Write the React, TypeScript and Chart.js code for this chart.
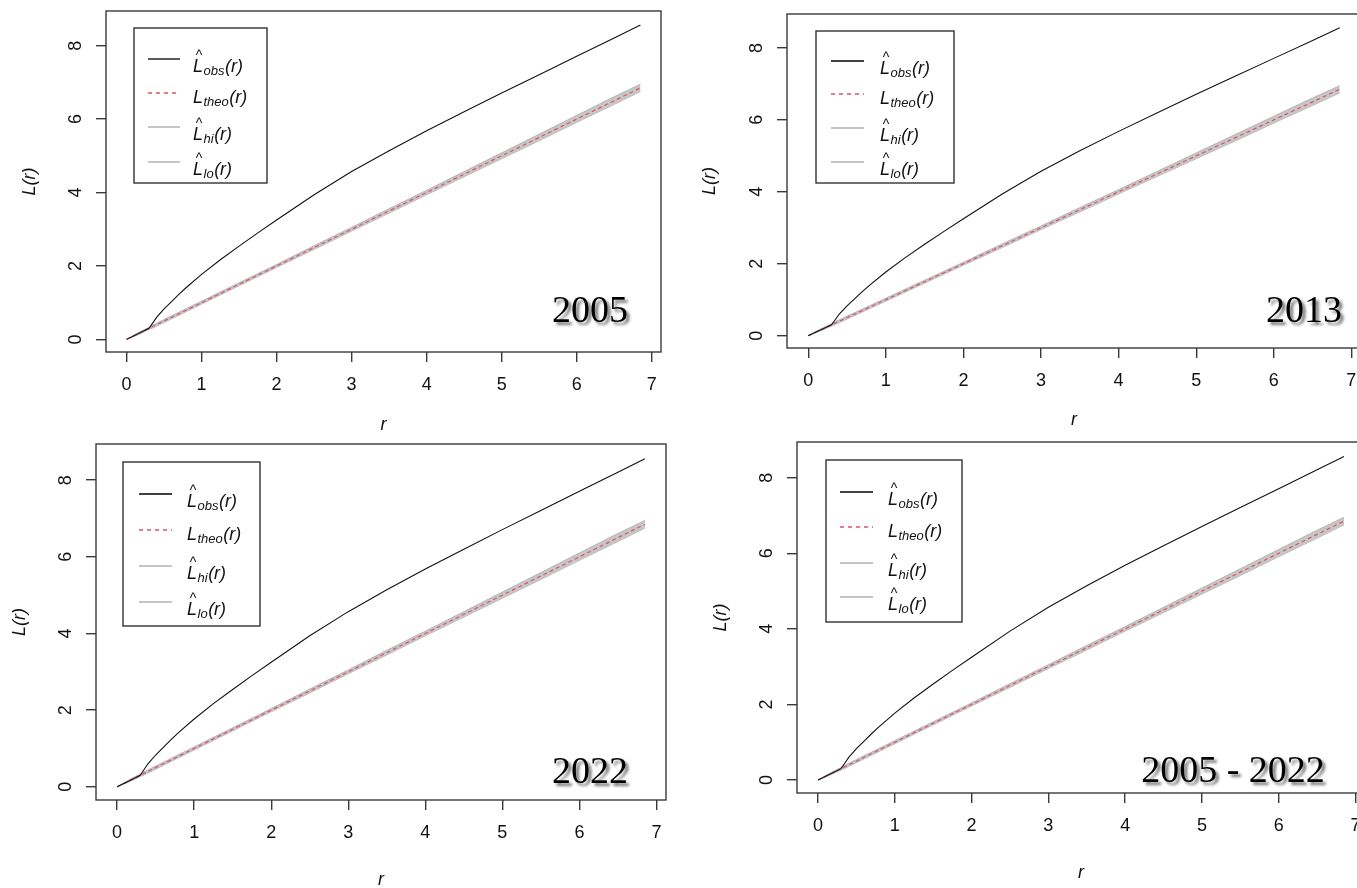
import React, { useEffect, useRef } from 'react';
import { Chart, registerables } from 'chart.js';

Chart.register(...registerables);

// ---------- data ----------
const rValues = [0, 0.1, 0.2, 0.3, 0.35, 0.4, 0.5, 0.6, 0.7, 0.8, 1, 1.25, 1.5, 1.75, 2, 2.5, 3, 3.5, 4, 4.5, 5, 5.5, 6, 6.5, 6.85];
const obsValues = [0, 0.1, 0.2, 0.3, 0.45, 0.6, 0.83, 1.03, 1.23, 1.42, 1.77, 2.17, 2.54, 2.9, 3.25, 3.94, 4.57, 5.14, 5.68, 6.2, 6.71, 7.21, 7.71, 8.21, 8.56];
const theoValues = [0, 0.1, 0.2, 0.3, 0.35, 0.4, 0.5, 0.6, 0.7, 0.8, 1, 1.25, 1.5, 1.75, 2, 2.5, 3, 3.5, 4, 4.5, 5, 5.5, 6, 6.5, 6.85];
const hiValues = [0, 0.12, 0.23, 0.33, 0.39, 0.44, 0.54, 0.64, 0.74, 0.84, 1.04, 1.29, 1.54, 1.79, 2.04, 2.55, 3.05, 3.56, 4.06, 4.57, 5.08, 5.59, 6.1, 6.61, 6.95];
const loValues = [0, 0.08, 0.17, 0.27, 0.31, 0.36, 0.46, 0.56, 0.66, 0.76, 0.96, 1.21, 1.46, 1.71, 1.96, 2.45, 2.95, 3.44, 3.94, 4.43, 4.92, 5.41, 5.91, 6.4, 6.75];
const xTickValues = [0, 1, 2, 3, 4, 5, 6, 7];
const yTickValues = [0, 2, 4, 6, 8];
const panelLabels = ['2005', '2013', '2022', '2005 - 2022'];
const legendSubscripts = ['obs', 'theo', 'hi', 'lo'];
const legendHats = [true, false, true, true];

// ---------- layout (page pixel positions) ----------
const PANELS = [
  { area: { l: 106, t: 11, r: 661, b: 352 }, dl: 76, dr: 73, year: [590, 312],
    legend: { x: 134, y: 28, w: 133, h: 155, rows: [59, 93, 127, 162], line: [148, 180], text: 193 } },
  { area: { l: 787, t: 14, r: 1361, b: 348 }, dl: 77, dr: 72, year: [1304, 312],
    legend: { x: 816, y: 31, w: 138, h: 152, rows: [61, 94, 128, 162], line: [831, 864], text: 880 } },
  { area: { l: 96, t: 444, r: 666, b: 800 }, dl: 76, dr: 80, year: [590, 773],
    legend: { x: 123, y: 462, w: 137, h: 164, rows: [494, 530, 566, 602], line: [139, 172], text: 187 } },
  { area: { l: 797, t: 442, r: 1365, b: 793 }, dl: 76, dr: 80, year: [1233, 772],
    legend: { x: 826, y: 460, w: 136, h: 162, rows: [492, 527, 563, 597], line: [840, 873], text: 888 } },
];

const SANS = '"Liberation Sans", Arial, Helvetica, sans-serif';
const SERIF = '"Liberation Serif", "Times New Roman", serif';
const Y_AXIS_W = 90;
const X_AXIS_H = 95;
const PAD_L = 110, PAD_T = 15, PAD_R = 20, PAD_B = 100;
const TICK_FONT = 18;

const LEGEND_STYLE = [
  { color: '#000000', width: 1.3, dash: [] as number[] },
  { color: '#DF536B', width: 1.3, dash: [4, 4] },
  { color: '#c4c4c4', width: 2, dash: [] as number[] },
  { color: '#c4c4c4', width: 2, dash: [] as number[] },
];

const rPlotPlugin = {
  id: 'rPlot',
  afterDraw(chart: any, _args: any, opts: any) {
    const { ctx, chartArea: a, scales } = chart;
    const ox = opts.ox, oy = opts.oy;
    ctx.save();
    // plot box
    ctx.strokeStyle = '#3a3a3a';
    ctx.lineWidth = 1.4;
    ctx.strokeRect(a.left, a.top, a.right - a.left, a.bottom - a.top);

    // rotated y tick labels (R style, las = 0)
    const ys = scales.y;
    ctx.fillStyle = '#111';
    ctx.font = `${TICK_FONT}px ${SANS}`;
    ctx.textAlign = 'center';
    ctx.textBaseline = 'middle';
    ys.ticks.forEach((t: any) => {
      const py = ys.getPixelForValue(t.value);
      ctx.save();
      ctx.translate(a.left - 30, py);
      ctx.rotate(-Math.PI / 2);
      ctx.fillText(String(t.value), 0, 0);
      ctx.restore();
    });

    // legend
    const lg = opts.legend;
    ctx.fillStyle = '#fff';
    ctx.fillRect(lg.x - ox, lg.y - oy, lg.w, lg.h);
    ctx.strokeStyle = '#333';
    ctx.lineWidth = 1.4;
    ctx.strokeRect(lg.x - ox, lg.y - oy, lg.w, lg.h);
    legendSubscripts.forEach((sub, i) => {
      const y = lg.rows[i] - oy;
      const st = LEGEND_STYLE[i];
      ctx.strokeStyle = st.color;
      ctx.lineWidth = st.width;
      ctx.setLineDash(st.dash);
      ctx.beginPath();
      ctx.moveTo(lg.line[0] - ox, y);
      ctx.lineTo(lg.line[1] - ox, y);
      ctx.stroke();
      ctx.setLineDash([]);
      const base = y + (legendHats[i] ? 13 : 9.5);
      let x = lg.text - ox;
      ctx.fillStyle = '#111';
      ctx.textBaseline = 'alphabetic';
      ctx.textAlign = 'left';
      ctx.font = `italic 18px ${SANS}`;
      ctx.fillText('L', x, base);
      const lw = ctx.measureText('L').width;
      if (legendHats[i]) {
        ctx.font = `14px ${SANS}`;
        ctx.textAlign = 'center';
        ctx.fillText('^', x + lw / 2 + 1, base - 12.5);
        ctx.textAlign = 'left';
      }
      x += lw + 0.5;
      ctx.font = `italic 13px ${SANS}`;
      ctx.fillText(sub, x, base + 3);
      x += ctx.measureText(sub).width + 0.5;
      ctx.font = `italic 18px ${SANS}`;
      ctx.fillText('(r)', x, base);
    });

    // year label with shadow
    ctx.font = `38px ${SERIF}`;
    ctx.textAlign = 'center';
    ctx.textBaseline = 'middle';
    ctx.shadowColor = 'rgba(0,0,0,0.55)';
    ctx.shadowOffsetX = 3;
    ctx.shadowOffsetY = 3;
    ctx.shadowBlur = 3;
    ctx.fillStyle = '#000';
    ctx.fillText(opts.label, opts.year[0] - ox, opts.year[1] - oy);
    ctx.restore();
  },
};

const pts = (vals: number[]) => rValues.map((r, i) => ({ x: r, y: vals[i] }));

function Panel({ idx }: { idx: number }) {
  const ref = useRef<HTMLCanvasElement | null>(null);
  const cfg = PANELS[idx];
  const { l, t, r, b } = cfg.area;
  const x0 = l - PAD_L;
  const y0 = t - PAD_T;
  const W = r - l + PAD_L + PAD_R;
  const H = b - t + PAD_T + PAD_B;

  useEffect(() => {
    if (!ref.current) return;
    const chart = new Chart(ref.current, {
      type: 'line',
      data: {
        datasets: [
          { label: 'obs', data: pts(obsValues), borderColor: '#111', borderWidth: 1.1, pointRadius: 0, tension: 0, fill: false },
          { label: 'theo', data: pts(theoValues), borderColor: '#DF536B', borderWidth: 1.2, borderDash: [4, 3], pointRadius: 0, tension: 0, fill: false },
          { label: 'hi', data: pts(hiValues), borderColor: '#b4b4b4', borderWidth: 1, pointRadius: 0, tension: 0, fill: '+1', backgroundColor: '#c6c6c6' },
          { label: 'lo', data: pts(loValues), borderColor: '#b4b4b4', borderWidth: 1, pointRadius: 0, tension: 0, fill: false },
        ],
      } as any,
      options: {
        animation: false,
        responsive: false,
        devicePixelRatio: 1,
        layout: { padding: { left: PAD_L - Y_AXIS_W, top: PAD_T, right: PAD_R, bottom: PAD_B - X_AXIS_H } },
        plugins: {
          legend: { display: false },
          tooltip: { enabled: false },
          rPlot: { ox: x0, oy: y0, legend: cfg.legend, year: cfg.year, label: panelLabels[idx] },
        } as any,
        scales: {
          x: {
            type: 'linear',
            min: -0.274,
            max: 7.124,
            afterBuildTicks: (s: any) => { s.ticks = xTickValues.map((v) => ({ value: v })); },
            afterFit: (s: any) => { s.height = X_AXIS_H; },
            grid: { display: true, drawOnChartArea: false, drawTicks: true, tickLength: 10, color: '#3a3a3a', lineWidth: 1.4 },
            border: { display: false },
            ticks: { color: '#111', font: { family: SANS, size: TICK_FONT, lineHeight: 1 }, padding: 14, maxRotation: 0, autoSkip: false },
            title: { display: true, text: 'r', color: '#111', font: { family: SANS, size: 18, style: 'italic', lineHeight: 1 }, padding: { top: 0, bottom: X_AXIS_H - cfg.dr - 9 } },
          },
          y: {
            type: 'linear',
            min: -0.344,
            max: 8.944,
            afterBuildTicks: (s: any) => { s.ticks = yTickValues.map((v) => ({ value: v })); },
            afterFit: (s: any) => { s.width = Y_AXIS_W; },
            grid: { display: true, drawOnChartArea: false, drawTicks: true, tickLength: 10, color: '#3a3a3a', lineWidth: 1.4 },
            border: { display: false },
            ticks: { display: false },
            title: { display: true, text: 'L(r)', color: '#111', font: { family: SANS, size: 18, style: 'italic', lineHeight: 1 }, padding: { top: Y_AXIS_W - cfg.dl - 9, bottom: 0 } },
          },
        } as any,
      },
      plugins: [rPlotPlugin as any],
    });
    return () => chart.destroy();
  }, []);

  return (
    <canvas
      ref={ref}
      width={W}
      height={H}
      style={{ position: 'absolute', left: x0, top: y0, width: W, height: H }}
    />
  );
}

export default function App() {
  return (
    <div style={{ position: 'absolute', left: 0, top: 0, width: 1357, height: 888, overflow: 'hidden', background: '#fff' }}>
      {PANELS.map((_, i) => <Panel key={i} idx={i} />)}
    </div>
  );
}
